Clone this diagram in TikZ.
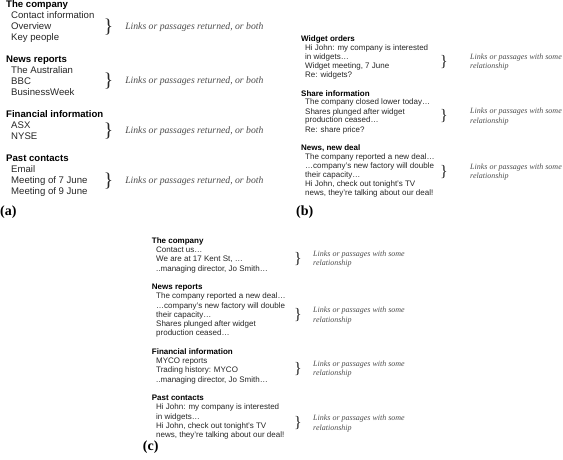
\documentclass[tikz,border=0pt]{standalone}
\usepackage{fontspec}
\setmainfont{Liberation Serif}
\setsansfont{Liberation Sans}
\usetikzlibrary{positioning}

\tikzset{
  heada/.style={anchor=base west, inner sep=0pt, font=\sffamily\bfseries\fontsize{9.6}{11}\selectfont},
  itema/.style={anchor=base west, inner sep=0pt, text=black!85, font=\sffamily\fontsize{9.6}{11}\selectfont},
  headb/.style={anchor=base west, inner sep=0pt, font=\sffamily\bfseries\fontsize{8}{9}\selectfont},
  itemb/.style={anchor=base west, inner sep=0pt, text=black!85, font=\sffamily\fontsize{8}{9}\selectfont},
  bracea/.style={inner sep=0pt, text=black!85, font=\fontsize{19.5}{20}\selectfont},
  braceb/.style={inner sep=0pt, text=black!85, font=\fontsize{16}{16}\selectfont},
  notea/.style={anchor=west, inner sep=0pt, text=black!70, font=\itshape\fontsize{9.7}{11}\selectfont},
  noteb/.style={anchor=west, inner sep=0pt, align=left, text=black!70, font=\itshape\fontsize{8}{9.5}\selectfont},
  panel/.style={anchor=west, inner sep=0pt, font=\bfseries\fontsize{14}{14}\selectfont},
}

\begin{document}
\begin{tikzpicture}[x=1pt, y=-1pt]
    \useasboundingbox (0,0) rectangle (563,460);

    % (a)
    \node[heada] (a1) at (6,7.9) {The company};
    \foreach \lbl [count=\i] in {Contact information, Overview, Key people}
        \node[itema] (a1-\i) at (11,7.9+11*\i) {\lbl};
    \node[heada] (a2) at (6,62.9) {News reports};
    \foreach \lbl [count=\i] in {The Australian, BBC, BusinessWeek}
        \node[itema] (a2-\i) at (11,62.9+11*\i) {\lbl};
    \node[heada] (a3) at (6,117.9) {Financial information};
    \foreach \lbl [count=\i] in {ASX, NYSE}
        \node[itema] (a3-\i) at (11,117.9+11*\i) {\lbl};
    \node[heada] (a4) at (6,161.9) {Past contacts};
    \foreach \lbl [count=\i] in {Email, Meeting of 7 June, Meeting of 9 June}
        \node[itema] (a4-\i) at (11,161.9+11*\i) {\lbl};

    \foreach \y [count=\i] in {26.7, 81, 131, 181} {
        \node[bracea] (a brace \i) at (108.5,\y) {\}};
        \node[notea, right=11.7pt of a brace \i] (a note \i) {Links or passages returned, or both};
    }
    \node[panel] (panel a) at (0,212) {(a)};

    % (b)
    \node[headb] (b1) at (301,42) {Widget orders};
    \foreach \lbl [count=\i] in {Hi John: my company is interested, in widgets…, {Widget meeting, 7 June}, Re: widgets?}
        \node[itemb] (b1-\i) at (305,42+9*\i) {\lbl};
    \node[headb] (b2) at (301,96) {Share information};
    \foreach \lbl [count=\i] in {The company closed lower today…, Shares plunged after widget, production ceased…, Re: share price?}
        \node[itemb] (b2-\i) at (305,96+9*\i) {\lbl};
    \node[headb] (b3) at (301,150) {News, new deal};
    \foreach \lbl [count=\i] in {The company reported a new deal…, …company’s new factory will double, their capacity…, {Hi John, check out tonight’s TV}, {news, they’re talking about our deal!}}
        \node[itemb] (b3-\i) at (305,150+9*\i) {\lbl};

    \foreach \y [count=\i] in {62, 116.5, 172} {
        \node[braceb] (b brace \i) at (444,\y) {\}};
        \node[noteb, right=22pt of b brace \i] (b note \i) {Links or passages with some\\relationship};
    }
    \node[panel] (panel b) at (296,211.7) {(b)};

    % (c)
    \node[headb] (c1) at (151.7,243.3) {The company};
    \foreach \lbl [count=\i] in {Contact us…, {We are at 17 Kent St, …}, {..managing director, Jo Smith…}}
        \node[itemb] (c1-\i) at (156,243.3+9.25*\i) {\lbl};
    \node[headb] (c2) at (151.7,289.55) {News reports};
    \foreach \lbl [count=\i] in {The company reported a new deal…, …company’s new factory will double, their capacity…, Shares plunged after widget, production ceased…}
        \node[itemb] (c2-\i) at (156,289.55+9.25*\i) {\lbl};
    \node[headb] (c3) at (151.7,354.3) {Financial information};
    \foreach \lbl [count=\i] in {MYCO reports, Trading history: MYCO, {..managing director, Jo Smith…}}
        \node[itemb] (c3-\i) at (156,354.3+9.25*\i) {\lbl};
    \node[headb] (c4) at (151.7,400.55) {Past contacts};
    \foreach \lbl [count=\i] in {Hi John: my company is interested, in widgets…, {Hi John, check out tonight’s TV}, {news, they’re talking about our deal!}}
        \node[itemb] (c4-\i) at (156,400.55+9.25*\i) {\lbl};

    \foreach \y [count=\i] in {259, 315.5, 369, 423.5} {
        \node[braceb] (c brace \i) at (298,\y) {\}};
        \node[noteb, right=11pt of c brace \i] (c note \i) {Links or passages with some\\relationship};
    }
    \node[panel] (panel c) at (142.7,446.7) {(c)};
\end{tikzpicture}
\end{document}
